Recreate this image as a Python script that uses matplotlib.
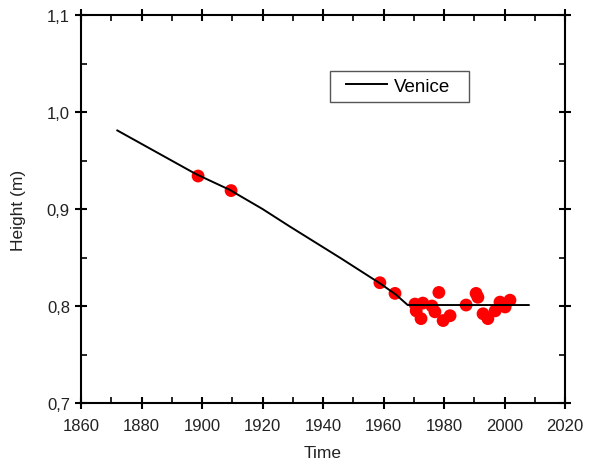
import matplotlib.pyplot as plt
from matplotlib.patches import Rectangle
from matplotlib.ticker import MultipleLocator, FuncFormatter

plt.rcParams['font.family'] = ['Liberation Sans', 'DejaVu Sans']

# sea level trend line (Venice)
line_years = [1872, 1898, 1909, 1920, 1929, 1946, 1959, 1964, 1968, 2008]
line_height = [0.981, 0.936, 0.920, 0.900, 0.882, 0.849, 0.823, 0.812, 0.801, 0.801]

# measured points
pt_years = [1898.7, 1909.6, 1958.8, 1963.8, 1970.4, 1970.8, 1973.0, 1976.0, 1977.0,
            1972.4, 1978.3, 1979.7, 1982.0, 1987.3, 1990.6, 1991.2, 1992.9, 1994.5,
            1996.9, 1998.5, 2000.2, 2001.8]
pt_height = [0.934, 0.919, 0.824, 0.813, 0.802, 0.795, 0.803, 0.800, 0.794,
             0.787, 0.814, 0.785, 0.790, 0.801, 0.813, 0.809, 0.792, 0.787,
             0.795, 0.804, 0.799, 0.806]

fig = plt.figure(figsize=(5.94, 4.64), dpi=100)
ax = fig.add_axes([0.1364, 0.1293, 0.8148, 0.8362])

ax.plot(line_years, line_height, color='black', lw=1.4, label='Venice', zorder=3)
ax.scatter(pt_years, pt_height, s=85, color='red', edgecolors='none', zorder=2)

ax.set_xlim(1860, 2020)
ax.set_ylim(0.7, 1.1)
ax.xaxis.set_major_locator(MultipleLocator(20))
ax.xaxis.set_minor_locator(MultipleLocator(10))
ax.yaxis.set_major_locator(MultipleLocator(0.1))
ax.yaxis.set_minor_locator(MultipleLocator(0.05))
ax.yaxis.set_major_formatter(FuncFormatter(lambda v, p: f'{v:.1f}'.replace('.', ',')))

ax.tick_params(which='major', direction='inout', length=9, width=1.5,
               top=True, right=True, labelsize=12, labelcolor='#222222')
ax.tick_params(axis='x', which='major', pad=6)
ax.tick_params(which='minor', direction='in', length=4, width=1.2,
               top=True, right=True)
for s in ax.spines.values():
    s.set_linewidth(1.5)

ax.set_xlabel('Time', fontsize=12.5, labelpad=9, color='#222222')
ax.set_ylabel('Height (m)', fontsize=12.5, labelpad=15, color='#222222')

# legend without its own frame, box drawn separately so it can be wider
ax.legend(loc='center left', bbox_to_anchor=(0.5475, 0.816), fontsize=13.5,
          frameon=False, handlelength=2.2, handletextpad=0.35,
          borderpad=0, borderaxespad=0)
ax.add_patch(Rectangle((0.514, 0.776), 0.287, 0.080, transform=ax.transAxes,
                       fill=False, edgecolor='#555555', lw=1.0, zorder=4))

plt.savefig('out.png', dpi=100)
